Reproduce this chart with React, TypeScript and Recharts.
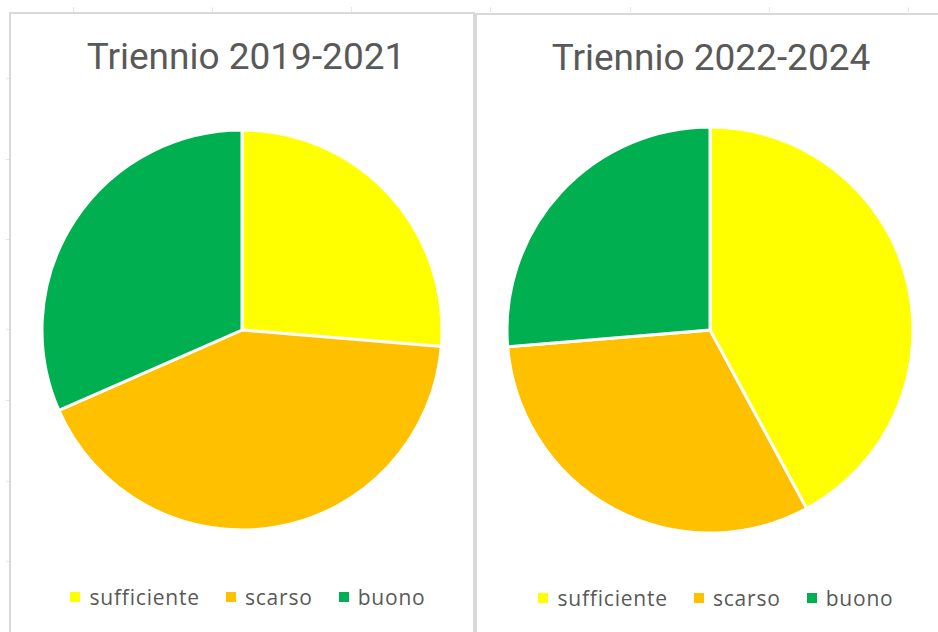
import { PieChart, Pie, Cell, Legend } from 'recharts';

// Number of cases per rating, per three-year period
const CATEGORIES = ['sufficiente', 'scarso', 'buono'];
const VALUES_2019_2021 = [5, 8, 6];
const VALUES_2022_2024 = [8, 6, 5];
const TITLES = ['Triennio 2019-2021', 'Triennio 2022-2024'];

const COLORS: Record<string, string> = {
  sufficiente: '#ffff00',
  scarso: '#ffc000',
  buono: '#00b050',
};

const TEXT = '#595959';
const BORDER = '#d9d9d9';

// keep the legend in category order (recharts would list it reversed)
function LegendRow() {
  return (
    <div style={{ display: 'flex', justifyContent: 'center', alignItems: 'center', gap: 26 }}>
      {CATEGORIES.map((name) => (
        <div key={name} style={{ display: 'flex', alignItems: 'center', gap: 9 }}>
          <span style={{ width: 10, height: 10, background: COLORS[name], display: 'inline-block' }} />
          <span style={{ fontSize: 21, color: TEXT, fontFamily: '"Open Sans", sans-serif', letterSpacing: 0.8 }}>
            {name}
          </span>
        </div>
      ))}
    </div>
  );
}

function PiePanel({
  title,
  values,
  left,
  top,
  width,
  cx,
  cy,
  r,
  shift,
  legendShift,
  rightBorder,
}: {
  title: string;
  values: number[];
  left: number;
  top: number;
  width: number;
  cx: number;
  cy: number;
  r: number;
  shift: number;
  legendShift: number;
  rightBorder: boolean;
}) {
  const data = CATEGORIES.map((name, i) => ({ name, value: values[i] }));
  return (
    <div
      style={{
        position: 'absolute',
        left,
        top,
        width,
        height: 660,
        borderTop: `2px solid ${BORDER}`,
        borderLeft: `2px solid ${BORDER}`,
        borderRight: rightBorder ? `2px solid ${BORDER}` : 'none',
        boxSizing: 'border-box',
        background: '#fff',
      }}
    >
      <div
        style={{
          position: 'absolute',
          top: 21,
          left: shift,
          width: '100%',
          textAlign: 'center',
          fontFamily: 'Roboto, sans-serif',
          fontSize: 37,
          color: TEXT,
        }}
      >
        {title}
      </div>
      <PieChart width={width - 4} height={640} margin={{ top: 0, right: 0, bottom: 0, left: 0 }}>
        <Pie
          data={data}
          dataKey="value"
          nameKey="name"
          cx={cx}
          cy={cy}
          outerRadius={r}
          startAngle={90}
          endAngle={-270}
          stroke="#ffffff"
          strokeWidth={3}
          isAnimationActive={false}
        >
          {data.map((d) => (
            <Cell key={d.name} fill={COLORS[d.name]} />
          ))}
        </Pie>
        <Legend
          content={<LegendRow />}
          wrapperStyle={{ top: 569, left: legendShift, width: width - 4 }}
        />
      </PieChart>
    </div>
  );
}

export default function App() {
  const ticksX = [73, 212, 351, 490, 630, 769, 908];
  const ticksY = [78, 159, 239, 329, 400, 481, 561];
  return (
    <div
      style={{
        position: 'absolute',
        left: 0,
        top: 0,
        width: 938,
        height: 632,
        overflow: 'hidden',
        background: '#fff',
      }}
    >
      {ticksX.map((x) => (
        <div key={x} style={{ position: 'absolute', left: x, top: 7, width: 1, height: 5, background: '#e6e6e6' }} />
      ))}
      {ticksY.map((y) => (
        <div key={y} style={{ position: 'absolute', left: 6, top: y, width: 3, height: 1, background: '#e6e6e6' }} />
      ))}
      <PiePanel
        title={TITLES[0]}
        values={VALUES_2019_2021}
        left={9}
        top={12}
        width={466}
        cx={231}
        cy={316}
        r={200}
        shift={4}
        legendShift={6}
        rightBorder
      />
      <PiePanel
        title={TITLES[1]}
        values={VALUES_2022_2024}
        left={475}
        top={13}
        width={470}
        cx={233}
        cy={315}
        r={203}
        shift={0}
        legendShift={6}
        rightBorder={false}
      />
    </div>
  );
}
